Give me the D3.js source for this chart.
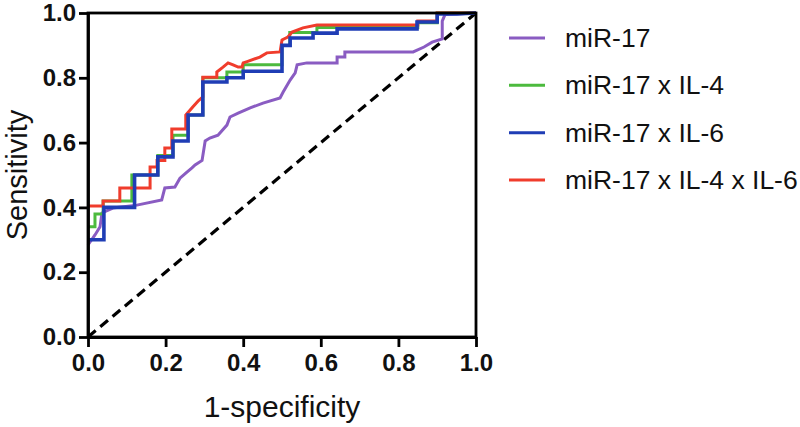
<!DOCTYPE html>
<html><head><meta charset="utf-8">
<script src="https://cdn.jsdelivr.net/npm/d3@7"></script>
<style>body{margin:0;background:#fff}svg{display:block}</style>
</head><body>
<svg id="c" width="800" height="427"></svg>
<script>
const seriesNames = ["miR-17", "miR-17 x IL-4", "miR-17 x IL-6", "miR-17 x IL-4 x IL-6"];
const seriesColors = ["#8a5cc2", "#4cba3e", "#1f3db5", "#f03c2c"];
const xTicks = [0, 0.2, 0.4, 0.6, 0.8, 1.0];
const yTicks = [0, 0.2, 0.4, 0.6, 0.8, 1.0];

// [1-specificity, sensitivity]
const mir17 = [[0,0.284],[0.018,0.315],[0.031,0.34],[0.036,0.383],[0.064,0.398],[0.126,0.407],[0.19,0.423],[0.198,0.46],[0.224,0.463],[0.237,0.49],[0.255,0.509],[0.268,0.522],[0.276,0.531],[0.294,0.545],[0.302,0.605],[0.314,0.614],[0.335,0.623],[0.358,0.654],[0.366,0.679],[0.387,0.691],[0.418,0.707],[0.451,0.722],[0.495,0.738],[0.503,0.756],[0.521,0.793],[0.534,0.815],[0.539,0.84],[0.564,0.846],[0.642,0.846],[0.642,0.864],[0.662,0.864],[0.662,0.88],[0.838,0.88],[0.866,0.895],[0.887,0.91],[0.913,0.92],[0.913,0.975],[0.92,0.995],[1,1]];
const mir17IL4 = [[0,0.34],[0.018,0.34],[0.018,0.38],[0.039,0.38],[0.039,0.42],[0.113,0.42],[0.113,0.50],[0.18,0.50],[0.18,0.56],[0.219,0.56],[0.219,0.623],[0.258,0.623],[0.258,0.685],[0.296,0.685],[0.296,0.80],[0.358,0.80],[0.358,0.818],[0.40,0.818],[0.40,0.84],[0.50,0.84],[0.50,0.90],[0.52,0.90],[0.52,0.94],[0.59,0.94],[0.59,0.955],[0.85,0.955],[0.85,0.97],[0.90,0.97],[0.90,1],[1,1]];
const mir17IL6 = [[0,0.30],[0.041,0.30],[0.041,0.40],[0.12,0.40],[0.12,0.50],[0.18,0.50],[0.18,0.556],[0.219,0.556],[0.219,0.605],[0.258,0.605],[0.258,0.685],[0.296,0.685],[0.296,0.787],[0.358,0.787],[0.358,0.80],[0.40,0.80],[0.40,0.82],[0.50,0.82],[0.50,0.90],[0.521,0.90],[0.521,0.923],[0.58,0.923],[0.58,0.938],[0.642,0.938],[0.642,0.951],[0.848,0.951],[0.848,0.972],[0.90,0.972],[0.90,0.997],[0.951,0.997],[1,1]];
const mir17IL4IL6 = [[0,0.404],[0.039,0.404],[0.039,0.42],[0.082,0.42],[0.082,0.46],[0.16,0.46],[0.16,0.525],[0.178,0.525],[0.178,0.545],[0.198,0.545],[0.198,0.583],[0.216,0.583],[0.216,0.642],[0.252,0.642],[0.252,0.685],[0.27,0.71],[0.285,0.73],[0.296,0.741],[0.296,0.802],[0.332,0.802],[0.332,0.818],[0.348,0.833],[0.361,0.846],[0.374,0.84],[0.387,0.833],[0.397,0.833],[0.40,0.846],[0.41,0.85],[0.443,0.864],[0.461,0.877],[0.495,0.88],[0.50,0.917],[0.515,0.926],[0.526,0.941],[0.554,0.954],[0.59,0.963],[0.85,0.963],[0.85,0.975],[0.90,0.975],[0.90,1],[1,1]];
const diagonal = [[0,0],[1,1]];

const allSeries = [mir17, mir17IL4, mir17IL4IL6, mir17IL6];
const drawOrderIdx = [0, 1, 3, 2];

const svg = d3.select("#c");
const W = 800, H = 427;
const m = {l: 88, r: 324, t: 13, b: 90};
const x = d3.scaleLinear().domain([0,1]).range([m.l, W - m.r]);
const y = d3.scaleLinear().domain([0,1]).range([H - m.b, m.t]);
const font = "'Liberation Sans', Arial, sans-serif";

const line = d3.line().x(d => x(d[0])).y(d => y(d[1]));

// diagonal reference
svg.append("path").attr("d", line(diagonal)).attr("fill","none")
  .attr("stroke","#000").attr("stroke-width",3.2).attr("stroke-dasharray","10,6");

// curves
const widths = [3, 3, 3.6, 3];
allSeries.forEach((s, i) => {
  const k = drawOrderIdx[i];
  svg.append("path").attr("d", line(s)).attr("fill","none")
    .attr("stroke", seriesColors[k]).attr("stroke-width", widths[k])
    .attr("stroke-linejoin","miter");
});

// frame
svg.append("rect").attr("x", x(0)).attr("y", y(1)).attr("width", x(1)-x(0)).attr("height", y(0)-y(1))
  .attr("fill","none").attr("stroke","#000").attr("stroke-width",2.8);

// axes
const xa = svg.append("g").attr("transform", `translate(0,${y(0)})`)
  .call(d3.axisBottom(x).tickValues(xTicks).tickFormat(d3.format(".1f")).tickSize(10).tickSizeOuter(0).tickPadding(7));
const ya = svg.append("g").attr("transform", `translate(${x(0)},0)`)
  .call(d3.axisLeft(y).tickValues(yTicks).tickFormat(d3.format(".1f")).tickSize(9).tickSizeOuter(0).tickPadding(3));
[xa, ya].forEach(g => {
  g.select(".domain").attr("stroke","#000").attr("stroke-width",2.8);
  g.selectAll(".tick line").attr("stroke","#000").attr("stroke-width",2.8);
  g.selectAll(".tick text").attr("font-family", font).attr("font-weight","bold")
    .attr("font-size", 24).attr("fill","#111");
});

// axis titles
svg.append("text").attr("x", (x(0)+x(1))/2).attr("y", 417).attr("text-anchor","middle")
  .attr("font-family", font).attr("font-size", 30).attr("fill","#111").text("1-specificity");
svg.append("text").attr("transform", `translate(27,${(y(0)+y(1))/2}) rotate(-90)`).attr("text-anchor","middle")
  .attr("font-family", font).attr("font-size", 29).attr("fill","#111").text("Sensitivity");

// legend
const lg = svg.append("g");
const legY = d3.scalePoint().domain(seriesNames).range([38, 180]);
seriesNames.forEach((n, i) => {
  const yy = legY(n);
  lg.append("line").attr("x1", 509).attr("x2", 545).attr("y1", yy).attr("y2", yy)
    .attr("stroke", seriesColors[i]).attr("stroke-width", 3);
  lg.append("text").attr("x", 565).attr("y", yy + 9).attr("font-family", font)
    .attr("font-size", 26.5).attr("fill","#111").text(n);
});
</script>
</body></html>
